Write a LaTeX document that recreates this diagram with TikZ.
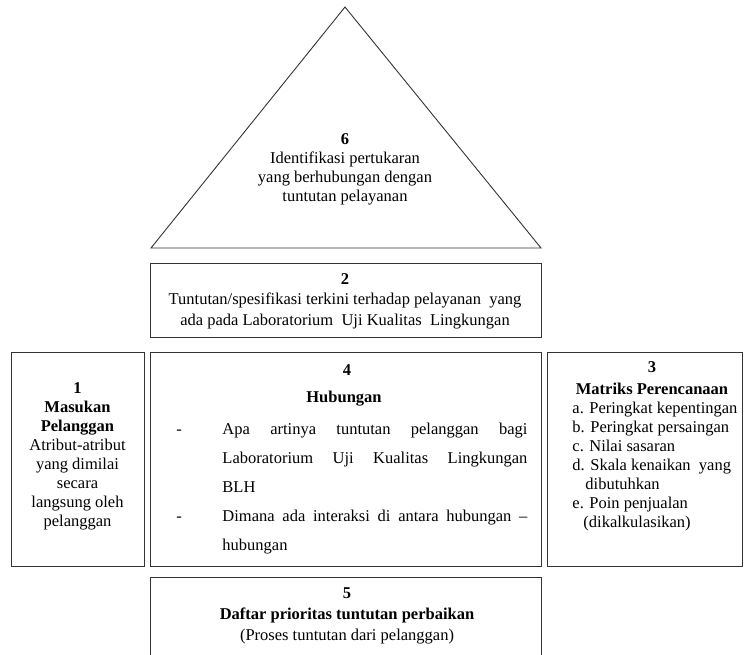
\documentclass[tikz,border=0pt]{standalone}
\usepackage{fontspec}
\setmainfont{Liberation Serif}
\begin{document}
\begin{tikzpicture}[x=1pt,y=-1pt,line width=0.9pt,
  box/.style={draw=black!80,rectangle,inner sep=0,outer sep=0},
  txt/.style={inner sep=0,align=center,font=\fontsize{16.5}{19}\selectfont},
  ltxt/.style={inner sep=0,align=left,font=\fontsize{16.5}{19}\selectfont}]
\useasboundingbox (0,0) rectangle (744,654);
\clip (0,0) rectangle (744,654);
% triangle 6
\coordinate (apex) at (345,7);
\coordinate (bl) at (151,248);
\coordinate (br) at (541,248);
\draw[draw=black!80] (bl) -- (apex) -- (br) -- cycle;
\node[txt,anchor=base] (t6) at (345,201) {\textbf{6}\\Identifikasi pertukaran\\yang berhubungan dengan\\tuntutan pelayanan};
% box 2
\node[box,minimum width=391pt,minimum height=74pt] (b2) at (345.5,300) {};
\node[txt,anchor=base,font=\fontsize{16.5}{20.5}\selectfont] (t2) at (345,325) {\textbf{2}\\Tuntutan/spesifikasi terkini terhadap pelayanan\ \ yang\\ada pada Laboratorium\ \ Uji Kualitas\ \ Lingkungan};
% box 1
\node[box,minimum width=133pt,minimum height=214pt] (b1) at (77.5,459) {};
\node[txt,anchor=base] (t1) at (77.5,526) {\textbf{1}\\\textbf{Masukan}\\\textbf{Pelanggan}\\Atribut-atribut\\yang dimilai\\secara\\langsung oleh\\pelanggan};
% box 4
\node[box,minimum width=391pt,minimum height=214pt] (b4) at (345.5,459) {};
\node[txt,anchor=base] (t4n) at (347,375) {\textbf{4}};
\node[txt,anchor=base] (t4h) at (344,402) {\textbf{Hubungan}};
\node[txt,anchor=base] (d1) at (179,434) {-};
\node[txt,anchor=base west] (l1) at (222,434) {\makebox[305pt][s]{Apa artinya tuntutan pelanggan bagi}};
\node[txt,anchor=base west] (l2) at (222,463) {\makebox[305pt][s]{Laboratorium Uji Kualitas Lingkungan}};
\node[txt,anchor=base west] (l3) at (222,492) {BLH};
\node[txt,anchor=base] (d2) at (179,521) {-};
\node[txt,anchor=base west] (l4) at (222,521) {\makebox[305pt][s]{Dimana ada interaksi di antara hubungan –}};
\node[txt,anchor=base west] (l5) at (222,550) {hubungan};
% box 3
\node[box,minimum width=195pt,minimum height=214pt] (b3) at (644.5,459) {};
\node[txt,anchor=base,font=\fontsize{16.5}{22}\selectfont] (t3) at (652,394) {\textbf{3}\\\textbf{Matriks Perencanaan}};
\node[ltxt,anchor=base west] (t3l) at (572,527) {a. Peringkat kepentingan\\b. Peringkat persaingan\\c. Nilai sasaran\\d. Skala kenaikan\ \ yang\\\hspace*{13pt}dibutuhkan\\e. Poin penjualan\\\hspace*{11pt}(dikalkulasikan)};
% box 5
\node[box,minimum width=391pt,minimum height=123pt] (b5) at (345.5,638.5) {};
\node[txt,anchor=base,font=\fontsize{16.5}{21}\selectfont] (t5) at (347,640) {\textbf{5}\\\textbf{Daftar prioritas tuntutan perbaikan}\\(Proses tuntutan dari pelanggan)};
\end{tikzpicture}
\end{document}
